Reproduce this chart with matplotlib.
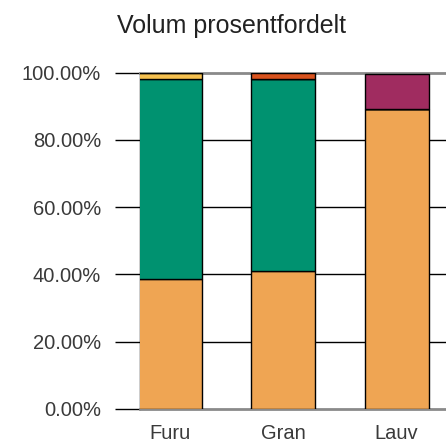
import matplotlib.pyplot as plt
import numpy as np

plt.rcParams['font.family'] = ['Liberation Sans', 'DejaVu Sans']

categories = ['Furu', 'Gran', 'Lauv']
# andel i prosent, stablet nedenfra og opp
orange = [38.5, 40.9, 89.2]
green = [59.5, 57.1, 0.0]
yellow = [2.0, 0.0, 0.0]
red = [0.0, 2.0, 0.0]
purple = [0.0, 0.0, 10.4]
ticks = [0, 20, 40, 60, 80, 100]

series = [
    (orange, '#EFA553'),
    (green, '#009270'),
    (yellow, '#F5C04F'),
    (red, '#D9531E'),
    (purple, '#A02C60'),
]

fig = plt.figure(figsize=(4.46, 4.43), dpi=100)
ax = fig.add_axes([140 / 446, 1 - 409 / 443, 306 / 446, (409 - 72.5) / 443])

x = np.arange(len(categories))
bottom = np.zeros(len(categories))
for vals, col in series:
    vals = np.array(vals)
    ax.bar(x, vals, width=0.565, bottom=bottom, color=col,
           edgecolor='black', linewidth=1, zorder=3)
    bottom += vals

ax.set_ylim(0, 100)
ax.set_xlim(-0.265, 2.437)
ax.set_yticks(ticks)
ax.set_yticklabels([f'{t:.2f}%' for t in ticks])
ax.set_xticks(x)
ax.set_xticklabels(categories)

for t in ticks[1:-1]:
    ax.axhline(t, color='black', lw=1, zorder=1)

ax.tick_params(axis='y', length=18, width=1, color='black', pad=10,
               labelsize=14.5, labelcolor='#3a3a3a')
ax.tick_params(axis='x', length=0, pad=10.5, labelsize=14.5, labelcolor='#3a3a3a')

ax.spines['right'].set_visible(False)
ax.spines['left'].set_color('black')
ax.spines['left'].set_linewidth(1)
ax.spines['top'].set_color('#8a8a8a')
ax.spines['top'].set_linewidth(2)
ax.spines['bottom'].set_color('#8a8a8a')
ax.spines['bottom'].set_linewidth(2)

fig.text(231.5 / 446, 1 - 33 / 443, 'Volum prosentfordelt', ha='center',
         va='baseline', fontsize=18, color='#222222')

fig.savefig('out.png', dpi=100)
